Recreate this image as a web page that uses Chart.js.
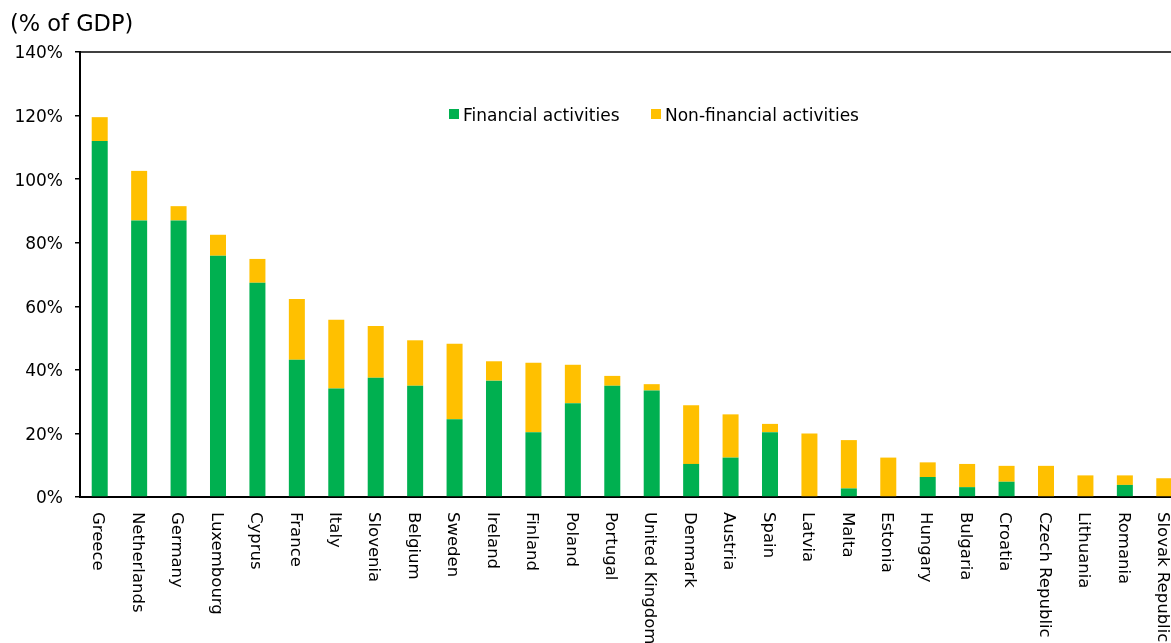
<!DOCTYPE html>
<html>
<head>
<meta charset="utf-8">
<script src="https://cdn.jsdelivr.net/npm/chart.js@4"></script>
<style>
  html, body { margin: 0; padding: 0; background: #fff; overflow: hidden; }
  #wrap { position: absolute; left: 0; top: 0; width: 1200px; height: 643px; }
</style>
</head>
<body>
<div id="wrap"><canvas id="c" width="1200" height="643"></canvas></div>
<script>
// Categories, ordered by total exposure
const countries = [
  'Greece', 'Netherlands', 'Germany', 'Luxembourg', 'Cyprus', 'France', 'Italy',
  'Slovenia', 'Belgium', 'Sweden', 'Ireland', 'Finland', 'Poland', 'Portugal',
  'United Kingdom', 'Denmark', 'Austria', 'Spain', 'Latvia', 'Malta', 'Estonia',
  'Hungary', 'Bulgaria', 'Croatia', 'Czech Republic', 'Lithuania', 'Romania',
  'Slovak Republic'
];

// % of GDP
const financial = [
  112.0, 87.0, 87.0, 75.9, 67.4, 43.2, 34.1, 37.5, 35.0, 24.5, 36.6, 20.4, 29.5, 35.0,
  33.5, 10.4, 12.4, 20.4, 0.0, 2.7, 0.0, 6.3, 3.1, 4.8, 0.0, 0.0, 3.8, 0.0
];
const nonFinancial = [
  7.5, 15.6, 4.5, 6.6, 7.5, 19.1, 21.7, 16.3, 14.3, 23.7, 6.1, 21.8, 12.1, 3.1,
  2.0, 18.5, 13.6, 2.6, 20.0, 15.2, 12.4, 4.6, 7.3, 5.0, 9.8, 6.8, 3.0, 5.9
];

const seriesNames = ['Financial activities', 'Non-financial activities'];
const yTicks = { min: 0, max: 140, step: 20 };
const unitLabel = '(% of GDP)';

const FONT = '"DejaVu Sans", Verdana, sans-serif';

// Unit caption, in-plot legend, top frame line and top-to-bottom category labels
const decorations = {
  id: 'decorations',
  afterDraw(chart) {
    const ctx = chart.ctx;
    const area = chart.chartArea;
    const xs = chart.scales.x;
    ctx.save();

    // top frame line
    ctx.strokeStyle = '#000';
    ctx.lineWidth = 1.5;
    ctx.beginPath();
    ctx.moveTo(area.left, area.top);
    ctx.lineTo(area.right, area.top);
    ctx.stroke();

    // unit caption
    ctx.fillStyle = '#000';
    ctx.font = '22.5px ' + FONT;
    ctx.textAlign = 'left';
    ctx.textBaseline = 'alphabetic';
    ctx.fillText(unitLabel, 10, 31);

    // legend
    ctx.font = '17px ' + FONT;
    const legendPos = [449, 651];
    chart.data.datasets.forEach((ds, i) => {
      const x = legendPos[i];
      ctx.fillStyle = ds.backgroundColor;
      ctx.fillRect(x, 109, 10, 10);
      ctx.fillStyle = '#000';
      ctx.fillText(ds.label, x + 14, 121);
    });

    // category labels, rotated to read downward
    ctx.font = '16.5px ' + FONT;
    ctx.textAlign = 'left';
    ctx.textBaseline = 'middle';
    ctx.fillStyle = '#000';
    chart.data.labels.forEach((lab, i) => {
      const px = xs.getPixelForValue(i) - 2;
      ctx.save();
      ctx.translate(px, xs.top + 15);
      ctx.rotate(Math.PI / 2);
      ctx.fillText(lab, 0, 0);
      ctx.restore();
    });
    ctx.restore();
  }
};

new Chart(document.getElementById('c'), {
  type: 'bar',
  data: {
    labels: countries,
    datasets: [
      { label: seriesNames[0], data: financial, backgroundColor: '#00B050' },
      { label: seriesNames[1], data: nonFinancial, backgroundColor: '#FFC000' }
    ]
  },
  options: {
    responsive: false,
    animation: false,
    devicePixelRatio: 1,
    layout: { padding: { top: 52, right: 16, left: 0, bottom: 0 } },
    datasets: { bar: { barPercentage: 0.406, categoryPercentage: 1.0, borderWidth: 0 } },
    plugins: { legend: { display: false }, tooltip: { enabled: false }, title: { display: false } },
    scales: {
      x: {
        stacked: true,
        grid: { display: false },
        border: { display: true, color: '#000', width: 2 },
        ticks: { display: false },
        afterFit(s) { s.height = 146; }
      },
      y: {
        stacked: true,
        min: yTicks.min,
        max: yTicks.max,
        ticks: {
          stepSize: yTicks.step,
          color: '#000',
          padding: 12,
          labelOffset: 2,
          font: { family: FONT, size: 17 },
          callback: v => v + '%'
        },
        grid: { display: true, drawOnChartArea: false, drawTicks: true, tickLength: 5, color: '#000', lineWidth: 1.5 },
        border: { display: true, color: '#000', width: 2 },
        afterFit(s) { s.width = 80; }
      }
    }
  },
  plugins: [decorations]
});
</script>
</body>
</html>
